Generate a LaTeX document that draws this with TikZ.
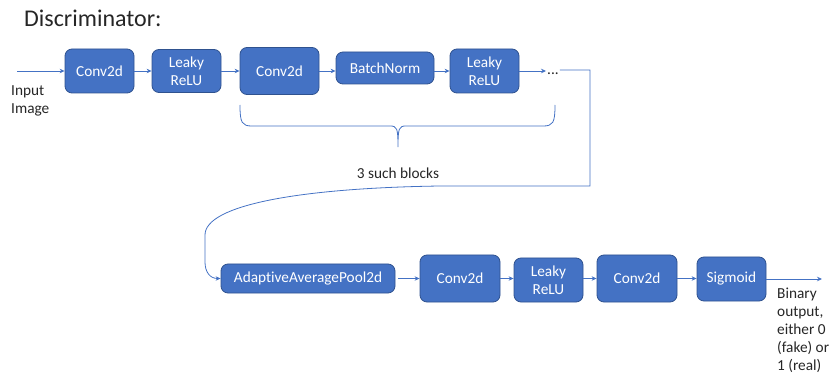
\documentclass[tikz,border=0pt]{standalone}
\usepackage{fontspec}
\setmainfont[Ligatures={NoCommon}]{Carlito}
\usetikzlibrary{arrows.meta}
\definecolor{boxblue}{HTML}{4472C4}
\definecolor{boxedge}{HTML}{2F528F}
\definecolor{txt}{HTML}{262626}
\begin{document}
\begin{tikzpicture}[x=1pt,y=-1pt,
  blk/.style={draw=boxedge,line width=0.8pt,fill=boxblue,text=white,rounded corners=7pt,
    align=center,inner sep=0pt,font=\fontsize{15.3}{18.3}\selectfont},
  lbl/.style={text=txt,inner sep=0pt,font=\fontsize{15.3}{18}\selectfont},
  arr/.style={draw=boxblue,line width=0.8pt,-{Stealth[length=5pt,width=4.5pt]}},
  ln/.style={draw=boxblue,line width=0.8pt}]
\useasboundingbox (0,0) rectangle (831,377);
% title
\node[lbl,anchor=base west,font=\fontsize{24}{28}\selectfont] (title) at (24,27) {Discriminator:};
% row 1
\coordinate (in) at (17,71);
\node[blk,minimum width=69,minimum height=44] (c1) at (99.5,71) {Conv2d};
\node[blk,minimum width=69,minimum height=43] (l1) at (186.5,71) {Leaky\\ReLU};
\node[blk,minimum width=79,minimum height=47] (c2) at (279.5,71) {Conv2d};
\node[blk,minimum width=98,minimum height=32] (bn) at (385,68) {BatchNorm};
\node[blk,minimum width=69,minimum height=44] (l2) at (484.5,71) {Leaky\\ReLU};
\node[lbl,inner sep=1pt] (dots) at (553,74) {...};
\node[lbl,anchor=north west,align=left] (inp) at (11,85) {Input\\Image};
\draw[arr] (in) -- (c1.west);
\draw[arr] (c1.east) -- (l1.west);
\draw[arr] (l1.east) -- (c2.west);
\draw[arr] (c2.east) -- (c2.east -| bn.west);
\draw[arr] (l2.west -| bn.east) -- (l2.west);
\draw[arr] (l2.east) -- (dots.west |- l2.east);
% brace
\draw[ln] (240,105) .. controls (240,123) and (242,126) .. (252,126) -- (390,126)
  .. controls (397,126) and (398,128) .. (398,147)
  .. controls (398,128) and (399,126) .. (406,126) -- (543,126)
  .. controls (553,126) and (555,123) .. (555,105);
\node[lbl] (blocks) at (398,173) {3 such blocks};
% row 2
\node[blk,minimum width=174,minimum height=29] (ap) at (308,278.5) {AdaptiveAveragePool2d};
\node[blk,minimum width=80,minimum height=47] (c3) at (460,278.5) {Conv2d};
\node[blk,minimum width=69,minimum height=44] (l3) at (548.5,280) {Leaky\\ReLU};
\node[blk,minimum width=80,minimum height=47] (c4) at (637,278.5) {Conv2d};
\node[blk,minimum width=69,minimum height=44] (sg) at (731.5,279) {Sigmoid};
\coordinate (out) at (822,279);
\node[lbl,anchor=north west,align=left] (outtxt) at (777,288) {Binary\\output,\\either 0\\(fake) or\\1 (real)};
% feedback connector
\draw[arr] (dots.east |- 0,70) -- (590,70) -- (590,186) -- (440,186)
  .. controls (300,188) and (205,205) .. (205,235) -- (205,262)
  .. controls (205,272) and (210,278.5) .. (ap.west);
\draw[arr] (ap.east) ++(3,0) -- (c3.west);
\draw[arr] (c3.east) -- (c3.east -| l3.west);
\draw[arr] (c3.east -| l3.east) -- (c4.west);
\draw[arr] (c4.east) -- (c4.east -| sg.west);
\draw[arr] (sg.east) -- (out);
\end{tikzpicture}
\end{document}
